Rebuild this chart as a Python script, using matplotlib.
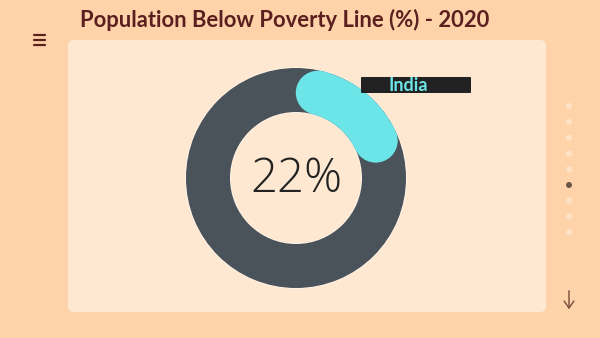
import matplotlib
matplotlib.use("Agg")
import matplotlib.pyplot as plt
import numpy as np
from matplotlib.patches import Wedge, Circle, FancyBboxPatch

# data
country = "India"
share_below = [22]          # percent below poverty line
share_rest = [100 - share_below[0]]
title = "Population Below Poverty Line (%) - 2020"

bg = "#FED3A9"
panel = "#FEE8D1"
ring_dark = "#4A525A"
ring_hi = "#6CE5E8"
maroon = "#5B1F1F"

fig = plt.figure(figsize=(6, 3.38), dpi=100, facecolor=bg)
ax = fig.add_axes([0, 0, 1, 1])
ax.set_xlim(0, 600)
ax.set_ylim(338, 0)
ax.set_aspect("equal")
ax.axis("off")

# panel
ax.add_patch(FancyBboxPatch((68, 40), 478, 272, boxstyle="round,pad=0,rounding_size=6",
                            facecolor=panel, edgecolor="none"))

# donut
cx, cy, r_out, w = 296, 178, 110, 44
ax.add_patch(Wedge((cx, cy), r_out + 1, 0, 360, width=w + 2, facecolor="#FFF3E6", edgecolor="none"))
ax.add_patch(Wedge((cx, cy), r_out, 0, 360, width=w, facecolor=ring_dark, edgecolor="none"))

# highlighted arc, clockwise from 12 o'clock with rounded ends
# (y axis inverted, so angles run clockwise on screen)
span = share_below[0] / 100 * 360
r_mid = r_out - w / 2
cap = np.rad2deg((w / 2) / r_mid)
a0 = -90 + cap
a1 = -90 + span - cap
ax.add_patch(Wedge((cx, cy), r_out, a0, a1, width=w, facecolor=ring_hi, edgecolor="none"))
for a in (a0, a1):
    t = np.deg2rad(a)
    ax.add_patch(Circle((cx + r_mid * np.cos(t), cy + r_mid * np.sin(t)), w / 2,
                        facecolor=ring_hi, edgecolor="none"))

ax.text(cx, cy + 2, f"{share_below[0]}%", ha="center", va="center", fontsize=34,
        family="Open Sans", fontweight="light", color="#222222")

# label tag
ax.add_patch(FancyBboxPatch((361, 77), 110, 16, boxstyle="round,pad=0,rounding_size=1",
                            facecolor="#222222", edgecolor="none"))
ax.text(408, 85.5, country, ha="center", va="center", fontsize=13, family="Lato",
        fontweight="bold", color=ring_hi)

# title
ax.text(80, 20, title, ha="left", va="center", fontsize=15.8, family="Lato",
        fontweight="bold", color=maroon)

# menu icon
for yy in (35, 40, 45):
    ax.plot([34, 45], [yy, yy], color=maroon, lw=1.6, solid_capstyle="round")

# nav dots
for i in range(9):
    yy = 106 + i * 15.8
    c = "#6B5648" if i == 5 else "#FEE3C8"
    ax.add_patch(Circle((569, yy), 3, facecolor=c, edgecolor="none"))

# down arrow
ax.annotate("", xy=(569, 312), xytext=(569, 288),
            arrowprops=dict(arrowstyle="->,head_length=0.5,head_width=0.35",
                            color="#7A4A3A", lw=1.0))

fig.savefig("out.png", dpi=100, facecolor=bg)
